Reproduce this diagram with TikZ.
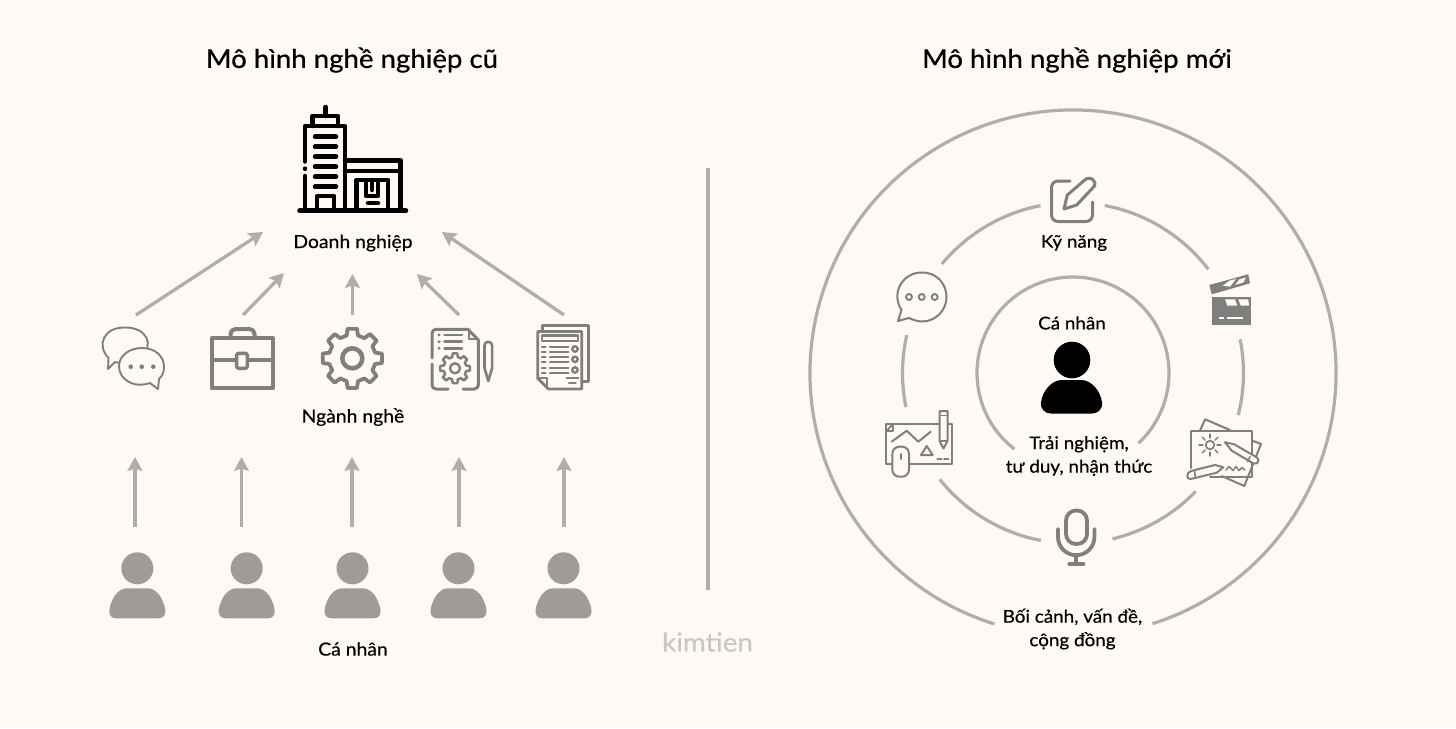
\documentclass[tikz,border=0pt]{standalone}
\usepackage{fontspec}
\setmainfont[FakeBold=0.45,FakeStretch=1.07]{Lato}
\newfontfamily\ttlfont[FakeBold=0.7,FakeStretch=1.07]{Lato}
\usetikzlibrary{arrows.meta}
\definecolor{bgc}{HTML}{FEF9F5}
\definecolor{linec}{HTML}{B0AEAB}
\definecolor{iconc}{HTML}{7F7F7D}
\definecolor{personc}{HTML}{9E9B99}
\definecolor{wm}{HTML}{C9C7C3}
\tikzset{
  lbl/.style={text=black,font=\fontsize{18.1}{21}\selectfont,inner sep=0pt,align=center},
  lblr/.style={text=black,font=\fontsize{17.6}{21}\selectfont,inner sep=0pt,align=center},
  ttl/.style={text=black,font=\ttlfont\fontsize{25.8}{30}\selectfont,inner sep=0pt},
  arr/.style={draw=linec,line width=3.3pt,-{Stealth[length=14pt,width=15pt,inset=2.5pt]},shorten >=0pt},
  ring/.style={draw=linec,line width=3.2pt},
  ic/.style={draw=iconc,line join=round,line cap=round},
  bk/.style={draw=black,line width=4.5pt,line cap=round,line join=round},
}
\newcommand\gearicon[6]{%
  \gdef\gp{}%
  \foreach \i in {1,...,8}{%
    \pgfmathsetmacro\aa{(\i-1)*45}%
    \pgfmathsetmacro\xa{#1+#4*cos(\aa-14)}\pgfmathsetmacro\ya{#2+#4*sin(\aa-14)}%
    \pgfmathsetmacro\xb{#1+#3*cos(\aa-9)}\pgfmathsetmacro\yb{#2+#3*sin(\aa-9)}%
    \pgfmathsetmacro\xc{#1+#3*cos(\aa+9)}\pgfmathsetmacro\yc{#2+#3*sin(\aa+9)}%
    \pgfmathsetmacro\xd{#1+#4*cos(\aa+14)}\pgfmathsetmacro\yd{#2+#4*sin(\aa+14)}%
    \xdef\gp{\gp(\xa,\ya)--(\xb,\yb)--(\xc,\yc)--(\xd,\yd)--}%
  }%
  \draw[ic,line width=#6pt] \gp cycle;
}
\newcommand\smallperson[1]{%
  \fill[personc] (#1,568.3) circle[radius=16];
  \fill[personc] (#1-28,610) .. controls (#1-26,598) and (#1-19,588.3) .. (#1-10.5,588.3) -- (#1+10.5,588.3)
     .. controls (#1+19,588.3) and (#1+26,598) .. (#1+28,610)
     .. controls (#1+28.5,615) and (#1+26,618.3) .. (#1+21,618.3) -- (#1-21,618.3)
     .. controls (#1-26,618.3) and (#1-28.5,615) .. (#1-28,610) -- cycle;
}
\newcommand\ringarc[3]{\draw[ring] (1073,373) ++(#2:#1) arc[start angle=#2,end angle=#3,radius=#1];}
\begin{document}
\begin{tikzpicture}[x=1pt,y=-1pt]
\useasboundingbox (0,0) rectangle (1456,728);
\fill[bgc] (0,0) rectangle (1456,728);

% texts
\node[ttl] (t1) at (352,60) {Mô hình nghề nghiệp cũ};
\node[ttl] (t2) at (1077,60) {Mô hình nghề nghiệp mới};
\node[lbl] (dn) at (353,243) {Doanh nghiệp};
\node[lbl] (nn) at (353,417) {Ngành nghề};
\node[lbl] (cn) at (353,649) {Cá nhân};
\node[lblr] (kn) at (1074,243) {Kỹ năng};
\node[lblr] (cn2) at (1072,323) {Cá nhân};
\node[lblr] (tn) at (1079,456) {Trải nghiệm,\\[2.5pt]tư duy, nhận thức};
\node[lblr] (bc) at (1072.5,629) {Bối cảnh, vấn đề,\\[2.5pt]cộng đồng};
\node[text=wm,font=\fontsize{26}{30}\selectfont,inner sep=0pt] (wmk) at (707.5,642) {kimtien};

% divider
\coordinate (d1) at (708,168); \coordinate (d2) at (708,590);
\draw[draw=linec,line width=3.5pt] (d1) -- (d2);

% upper arrows
\coordinate (a1s) at (136,315); \coordinate (a1e) at (263,232);
\coordinate (a2s) at (243,315); \coordinate (a2e) at (284,273);
\coordinate (a3s) at (352.5,315); \coordinate (a3e) at (352.5,274);
\coordinate (a4s) at (459,315); \coordinate (a4e) at (417,274);
\coordinate (a5s) at (564,315); \coordinate (a5e) at (442,232);
\foreach \n in {1,...,5} \draw[arr] (a\n s) -- (a\n e);
% lower arrows
\coordinate (b1s) at (135,527); \coordinate (b1e) at (135,457);
\coordinate (b2s) at (241.5,527); \coordinate (b2e) at (241.5,457);
\coordinate (b3s) at (352,527); \coordinate (b3e) at (352,457);
\coordinate (b4s) at (459,527); \coordinate (b4e) at (459,457);
\coordinate (b5s) at (564,527); \coordinate (b5e) at (564,457);
\foreach \n in {1,...,5} \draw[arr] (b\n s) -- (b\n e);

% persons
\smallperson{137.3}\smallperson{246.7}\smallperson{352.5}\smallperson{458.5}\smallperson{563.5}

% building
\draw[bk] (299.5,210.7) -- (406,210.7);
\draw[bk] (305,161.5) -- (305,126) -- (345,126) -- (345,210.7);
\draw[bk] (305,176) -- (305,210.7);
\fill (305,168.7) circle[radius=2.3];
\draw[bk] (312.7,126) -- (312.7,116) -- (338,116) -- (338,126);
\draw[bk] (325.7,107) -- (325.7,116);
\foreach \y in {136.7,146.7,156.7,166.7,176.7,186.7} \draw[bk] (315,\y) -- (336,\y);
\draw[bk] (317,210.7) -- (317,196) -- (334,196) -- (334,210.7);
\draw[bk] (345,160.7) -- (400.7,160.7) -- (400.7,210.7);
\draw[bk] (345,171) -- (400.7,171);
\draw[bk] (356.7,210.7) -- (356.7,180) -- (388,180) -- (388,210.7);
\draw[bk] (366,181) -- (366,196) -- (378,196) -- (378,181);
\draw[bk] (372,183) -- (372,190);
\draw[bk] (368,203) -- (378,203);

% chat bubbles
\draw[ic,line width=1.9pt] (108,369) -- (108.5,358) .. controls (96,345) and (104,327) .. (125,327.5)
   .. controls (146,327) and (156,345) .. (140,358) .. controls (130,364) and (122,364) .. (115,362) -- cycle;
\draw[ic,line width=1.9pt,fill=bgc] (158,389) -- (150,383) .. controls (132,389) and (119,378) .. (119,366.5)
   .. controls (119,355) and (130,348) .. (142,348) .. controls (155,348) and (164,356) .. (164,367)
   .. controls (164,373) and (162,376) .. (159,379) -- cycle;
\foreach \x in {130.7,141.7,153.3} \fill[iconc] (\x,366.7) circle[radius=2.3];

% briefcase
\draw[ic,line width=4pt] (211.7,338.3) rectangle (272.7,388.3);
\draw[ic,line width=4pt] (230.5,338.3) -- (230.5,334) arc[start angle=180,end angle=270,radius=5] -- (249.5,329) arc[start angle=270,end angle=360,radius=5] -- (254.5,338.3);
\draw[ic,line width=4pt] (211.7,360) -- (272.7,360);
\draw[ic,line width=3.5pt,fill=bgc,rounded corners=2pt] (236.7,353.3) rectangle (247.3,368.3);

% gear
\gearicon{352.3}{358.3}{30}{23.5}{10}{3.8}
\draw[ic,line width=4.5pt] (352.3,358.3) circle[radius=10];

% doc + gear
\draw[ic,line width=3pt] (468,329.3) -- (436,329.3) arc[start angle=270,end angle=180,radius=4] -- (432,358);
\draw[ic,line width=3pt] (432,364) -- (432,385) arc[start angle=180,end angle=90,radius=4] -- (448,389);
\draw[ic,line width=3pt] (468,329.3) -- (478.3,340) -- (478.3,385) arc[start angle=0,end angle=90,radius=4] -- (463,389);
\draw[ic,line width=2.5pt] (469,330) -- (469,339) -- (478,339);
\foreach \y in {335,341.7,348.3}{\fill[iconc] (439,\y) circle[radius=1.6]; \draw[ic,line width=2.6pt] (444.5,\y) -- (462,\y);}
\gearicon{455}{368.3}{15}{11.5}{5.3}{2.5}
\draw[ic,line width=2.4pt] (455,368.3) circle[radius=5];
\draw[ic,line width=2.6pt,fill=bgc] (484.5,368) -- (484.5,345.5) arc[start angle=180,end angle=360,radius=3.8] -- (492.1,368) -- (488.3,381) -- cycle;

% paper stack
\draw[ic,line width=2.8pt] (542.7,330) -- (542.7,325.5) -- (588.3,325.5) -- (588.3,381.7) -- (582,381.7);
\draw[ic,line width=2.8pt,fill=bgc] (537.7,331.5) -- (581.7,331.5) -- (581.7,389) -- (548.3,389) -- (537.7,378.3) -- cycle;
\draw[ic,line width=2.2pt] (537.7,378.3) -- (546.7,378.3) -- (546.7,388);
\draw[ic,line width=2.2pt] (541.7,335.5) rectangle (577.7,340.7);
\foreach \y in {346.7,352.3,357.3,362.3,367.7,372.7}{%
  \draw[ic,line width=2.2pt] (550,\y) -- (568.3,\y);
  \draw[ic,line width=2.2pt] (542,\y) -- (545.5,\y);}
\foreach \y in {349,359.3,370} \draw[ic,line width=2.4pt] (575,\y) circle[radius=2.7];
\draw[ic,line width=2.2pt] (566.7,378.3) -- (578.3,378.3);
\draw[ic,line width=2.2pt] (569,383.3) -- (575.7,383.3);

% rings
\ringarc{263}{107.4}{432.4}
\ringarc{96}{127.6}{407}
\ringarc{170.5}{259}{219.8}
\ringarc{170.5}{280.7}{322.5}
\ringarc{170.5}{192.8}{168.5}
\ringarc{170.5}{-11.4}{14.3}
\ringarc{170.5}{141.4}{100.9}
\ringarc{170.5}{76.6}{44}

% edit icon
\draw[ic,line width=3pt] (1070,181) -- (1058,181) arc[start angle=270,end angle=180,radius=6.5] -- (1051.5,215) arc[start angle=180,end angle=90,radius=6.5] -- (1086,221.5) arc[start angle=90,end angle=0,radius=6.5] -- (1092.5,202);
\draw[ic,line width=3pt,fill=bgc] (1064,209) -- (1067.3,195) -- (1086.2,178.8) .. controls (1091,176) and (1097,182) .. (1094.5,186) -- (1076.7,205) -- cycle;

% speech bubble
\draw[ic,line width=2pt] (898,321) -- (901.5,310) .. controls (890,292) and (904,272) .. (922,272.5)
   .. controls (938,272.5) and (946.5,285) .. (946.5,297)
   .. controls (946.5,310) and (936,321.5) .. (922,321.5)
   .. controls (916,321.5) and (912,319) .. (909,318) -- cycle;
\foreach \x in {909,921.7,934.7} \draw[ic,line width=1.9pt] (\x,297) circle[radius=3];

% clapperboard
\fill[iconc] (1212.3,297.3) rectangle (1250.7,325);
\fill[iconc] (1209.3,285) -- (1248.3,274.3) -- (1250,283.3) -- (1211.7,294.3) -- cycle;
\fill[bgc] (1222.7,285.7) -- (1229.3,280.7) -- (1236,279) -- (1230,286.7) -- cycle;
\fill[bgc] (1235,285) -- (1239.5,279.3) -- (1246,277.5) -- (1243.3,282.5) -- cycle;
\fill[bgc] (1225,299.3) -- (1235,299.3) -- (1237.3,305.7) -- (1227.3,305.7) -- cycle;
\fill[bgc] (1238.3,299.3) -- (1248.3,299.3) -- (1249,305.7) -- (1240.7,305.7) -- cycle;
\fill[bgc] (1219.3,316.5) rectangle (1224,319);
\fill[bgc] (1226.7,316.5) rectangle (1242.7,319);

% chart icon
\draw[ic,line width=2pt] (886,423.5) rectangle (951.5,464.3);
\draw[ic,line width=1.8pt] (886,431) -- (893,431) -- (893,424);
\draw[ic,line width=1.8pt] (886.5,431) -- (893,424);
\draw[ic,line width=2pt] (891.7,441.7) -- (906.7,430.7) -- (918.3,441.7) -- (930.7,431.7);
\draw[ic,line width=2pt] (921,455) -- (926.7,446) -- (932.7,455) -- cycle;
\draw[ic,line width=1.8pt] (937.3,459.3) -- (941.7,459.3);
\draw[ic,line width=1.8pt] (944,459.3) -- (948.3,459.3);
\draw[ic,line width=2pt,fill=bgc,rounded corners=7pt] (892.3,446.7) rectangle (909,476.7);
\draw[ic,line width=2pt] (900.7,454) -- (900.7,459);
\draw[ic,line width=2pt,fill=bgc] (939.5,411) -- (947.5,411) -- (947.5,441) -- (943.5,448.5) -- (939.5,441) -- cycle;
\draw[ic,line width=1.8pt] (939.5,415.5) -- (947.5,415.5);
\draw[ic,line width=1.8pt] (939.5,441) -- (947.5,441);

% sketch icon
\draw[ic,line width=2pt] (1200,430.7) -- (1205,419.3) -- (1230,430);
\draw[ic,line width=2pt] (1252.3,440.7) -- (1261,444) -- (1244.3,486) -- (1221.7,476);
\draw[ic,line width=2pt] (1190.7,468) -- (1190.7,430.7) -- (1251.7,430.7) -- (1251.7,476.7) -- (1210,476.7);
\draw[ic,line width=1.7pt] (1210,445) circle[radius=4.3];
\foreach \a in {0,45,...,315} \draw[ic,line width=1.4pt] (1210,445) ++(\a:7) -- ++(\a:4);
\draw[ic,line width=2pt,fill=bgc] (1225,442.3) -- (1234.3,444.3) -- (1257,457.5) .. controls (1260,459.5) and (1258,465) .. (1253.5,463.5) -- (1231.7,450.7) -- cycle;
\draw[ic,line width=1.6pt] (1250,456.7) -- (1247.7,461.7);
\draw[ic,line width=2pt,fill=bgc] (1223.3,467.3) -- (1215,465) -- (1191,471) .. controls (1186,472.5) and (1186,480) .. (1191,479) -- (1216.7,472.7) -- cycle;
\draw[ic,line width=1.6pt] (1194.3,470.7) -- (1195.7,478.3);
\draw[ic,line width=1.5pt] (1226,470) -- (1229,466.5) -- (1233,470.5) -- (1236,466.5) -- (1239,470.5) -- (1242,467.5) -- (1245,470);

% microphone
\draw[ic,line width=3.8pt,rounded corners=10pt] (1066,510.5) rectangle (1087,544);
\draw[ic,line width=3.8pt] (1058,529) -- (1058,537) arc[start angle=180,end angle=0,radius=18.2] -- (1094.4,529);
\draw[ic,line width=3.8pt] (1076.2,555) -- (1076.2,563.7);
\draw[ic,line width=3.8pt] (1069.3,564) -- (1083.5,564);

% central person
\fill[black] (1072,360) circle[radius=18.3];
\fill[black] (1041,402) .. controls (1043,390) and (1052,380) .. (1062,380) -- (1081,380)
   .. controls (1091,380) and (1100,390) .. (1102,402)
   .. controls (1103,409) and (1098,413.5) .. (1092,413.5) -- (1051,413.5)
   .. controls (1045,413.5) and (1040,409) .. (1041,402) -- cycle;
\end{tikzpicture}
\end{document}
